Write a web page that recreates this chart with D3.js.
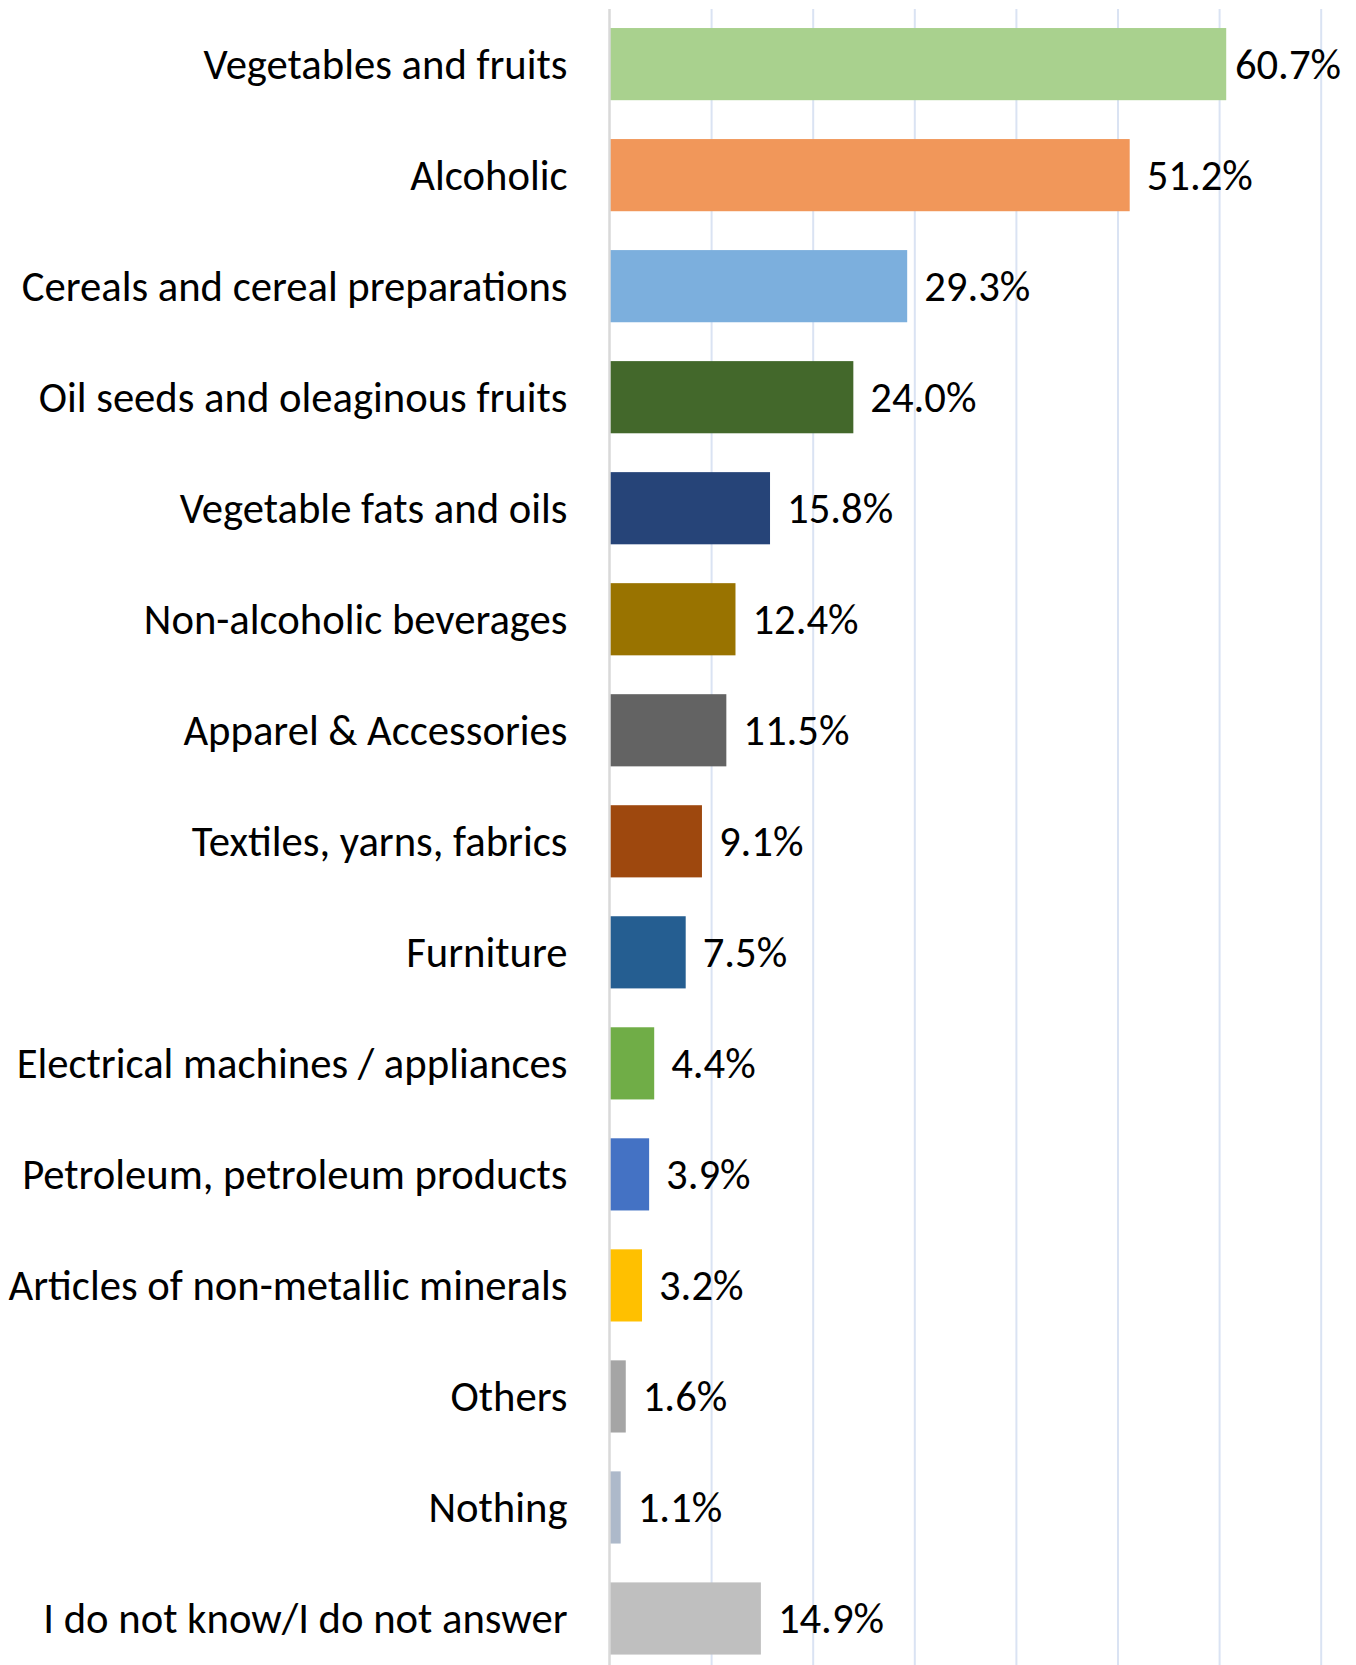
<!DOCTYPE html>
<html>
<head>
<meta charset="utf-8">
<script src="https://cdn.jsdelivr.net/npm/d3@7"></script>
<style>
  html, body { margin: 0; padding: 0; background: #ffffff; }
  svg { display: block; }
  text { font-family: Calibri, Carlito, Lato, "Open Sans", sans-serif; fill: #000; }
</style>
</head>
<body>
<svg id="chart" width="1356" height="1665"></svg>
<script>
const categories = [
  "Vegetables and fruits",
  "Alcoholic",
  "Cereals and cereal preparations",
  "Oil seeds and oleaginous fruits",
  "Vegetable fats and oils",
  "Non-alcoholic beverages",
  "Apparel & Accessories",
  "Textiles, yarns, fabrics",
  "Furniture",
  "Electrical machines / appliances",
  "Petroleum, petroleum products",
  "Articles of non-metallic minerals",
  "Others",
  "Nothing",
  "I do not know/I do not answer"
];
const values = [60.7, 51.2, 29.3, 24.0, 15.8, 12.4, 11.5, 9.1, 7.5, 4.4, 3.9, 3.2, 1.6, 1.1, 14.9];
const colors = [
  "#a9d18e", "#f1975a", "#7cafdd", "#43682b", "#264478",
  "#997300", "#636363", "#9e480e", "#255e91", "#70ad47",
  "#4472c4", "#ffc000", "#a5a5a5", "#adb9ca", "#bfbfbf"
];
const xTicks = [0, 10, 20, 30, 40, 50, 60, 70];

const svg = d3.select("#chart");

const x = d3.scaleLinear().domain([0, 70]).range([609.5, 1320.7]);
const y = d3.scaleBand().domain(categories).range([8.6, 1674])
  .paddingInner(0.35).paddingOuter(0.175);

// determine font size so label widths match the reference
const probe = svg.append("text").attr("font-size", 40).text("Vegetables and fruits");
const w = probe.node().getComputedTextLength();
probe.remove();
const fontSize = 40 * 364 / w;

// gridlines
const grid = svg.append("g").attr("class", "grid")
  .attr("transform", "translate(0,1665)")
  .call(d3.axisBottom(x).tickValues(xTicks.slice(1)).tickSize(-(1665 - 9)).tickFormat(""));
grid.select(".domain").remove();
grid.selectAll(".tick line").attr("stroke", "#dae3f3").attr("stroke-width", 2);

// bars
svg.append("g").selectAll("rect")
  .data(categories)
  .join("rect")
  .attr("x", x(0))
  .attr("y", d => y(d))
  .attr("width", (d, i) => x(values[i]) - x(0))
  .attr("height", y.bandwidth())
  .attr("fill", (d, i) => colors[i]);

// vertical axis line
const yAxis = svg.append("g").attr("transform", `translate(${x(0)},0)`)
  .call(d3.axisLeft(y).tickSize(0).tickPadding(42));
yAxis.select(".domain").attr("d", `M0,9V1665`).attr("stroke", "#d9d9d9").attr("stroke-width", 2.5);
yAxis.selectAll(".tick text")
  .attr("font-size", fontSize)
  .attr("font-family", "Calibri, Carlito, Lato, 'Open Sans', sans-serif")
  .attr("fill", "#000")
  .attr("dy", "0.35em");

// value labels (kept inside the chart area, as the original does)
const rightLimit = 1341;
svg.append("g").selectAll("text")
  .data(categories)
  .join("text")
  .attr("y", d => y(d) + y.bandwidth() / 2)
  .attr("dy", "0.35em")
  .attr("font-size", fontSize)
  .text((d, i) => values[i].toFixed(1) + "%")
  .each(function(d, i) {
    const tw = this.getComputedTextLength();
    d3.select(this).attr("x", Math.min(x(values[i]) + 17, rightLimit - tw));
  });
</script>
</body>
</html>
